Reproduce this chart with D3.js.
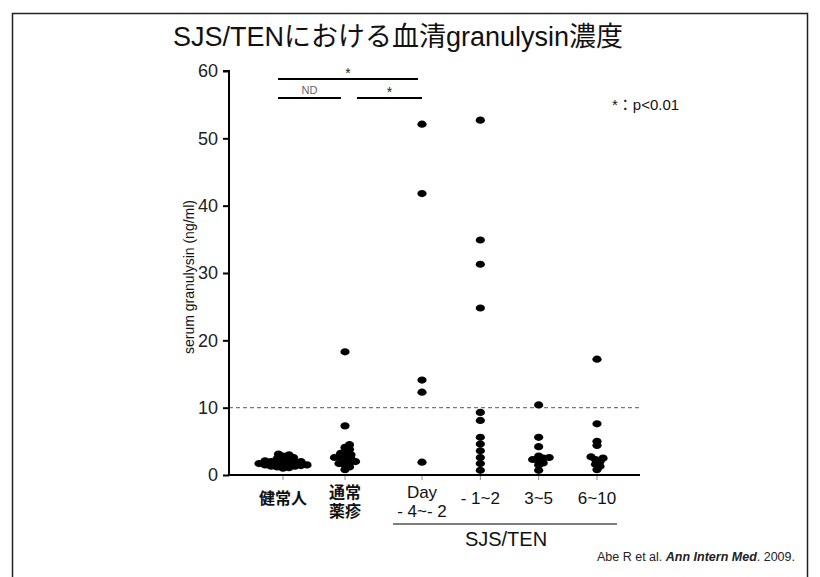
<!DOCTYPE html>
<html><head><meta charset="utf-8">
<script src="https://cdn.jsdelivr.net/npm/d3@7"></script>
<style>
body{margin:0;background:#fff;}
text{font-family:"Liberation Sans",Arial,"Noto Sans CJK JP",sans-serif;}
</style></head>
<body><svg id="c" width="820" height="577"></svg>
<script>
// ---- data ----
const controlCats = ["健常人", "通常薬疹"];
const sjsCats = ["Day -4~-2", "-1~2", "3~5", "6~10"];
const labelLines = {
  "健常人": ["健常人"],
  "通常薬疹": ["通常", "薬疹"],
  "Day -4~-2": ["Day", "- 4~- 2"],
  "-1~2": ["- 1~2"],
  "3~5": ["3~5"],
  "6~10": ["6~10"]
};
const healthy = [1.0,1.1,1.2,1.3,1.3,1.4,1.5,1.5,1.6,1.7,1.7,1.8,1.9,2.0,2.0,2.1,2.2,2.3,2.4,2.6,2.8,3.0,3.1];
const drugEruption = [0.8,1.2,1.5,1.7,1.8,2.0,2.2,2.4,2.5,2.6,2.8,3.0,3.2,3.5,3.8,4.1,4.5,7.3,18.3];
const sjsDay4to2 = [1.9,12.3,14.1,41.8,52.1];
const sjsDay1to2 = [0.7,1.7,2.6,3.6,4.6,5.6,8.1,9.3,24.8,31.3,34.9,52.7];
const sjsDay3to5 = [0.7,1.5,1.8,2.1,2.3,2.5,2.6,2.8,4.2,5.6,10.4];
const sjsDay6to10 = [0.8,1.3,1.6,2.0,2.3,2.5,2.7,4.4,5.0,7.6,17.2];
const seriesValues = [healthy, drugEruption, sjsDay4to2, sjsDay1to2, sjsDay3to5, sjsDay6to10];
const yTicks = [0,10,20,30,40,50,60];
const cutoff = 10;
const sigBars = [
  {from:"健常人", to:"Day -4~-2", label:"*", row:0},
  {from:"健常人", to:"通常薬疹", label:"ND", row:1},
  {from:"通常薬疹", to:"Day -4~-2", label:"*", row:1}
];
const titleText = "SJS/TENにおける血清granulysin濃度";
const yLabel = "serum granulysin (ng/ml)";
const groupLabel = "SJS/TEN";
const sigNote = "*：p<0.01";

// ---- layout ----
const svg = d3.select("#c");
const allCats = controlCats.concat(sjsCats);
const xCtrl = d3.scalePoint().domain(controlCats).range([283, 345]);
const xSjs = d3.scalePoint().domain(sjsCats).range([422, 597]);
const x = c => controlCats.includes(c) ? xCtrl(c) : xSjs(c);
const y = d3.scaleLinear().domain([0, 60]).range([475, 71]);
const axisLeftX = 229, axisRightX = 640;

// frame
svg.append("path").attr("d","M12.5,577 V13.5 H807.5 V577").attr("fill","none").attr("stroke","#222").attr("stroke-width",1.5);

// title
svg.append("text").attr("x",398).attr("y",46).attr("text-anchor","middle")
  .attr("font-size",27).attr("fill","#111").text(titleText);

// dashed cutoff
svg.append("line").attr("x1",axisLeftX).attr("x2",axisRightX)
  .attr("y1",y(cutoff)).attr("y2",y(cutoff))
  .attr("stroke","#777").attr("stroke-width",1.2).attr("stroke-dasharray","4,3");

// y axis
const ya = svg.append("g").attr("transform",`translate(${axisLeftX},0)`)
  .call(d3.axisLeft(y).tickValues(yTicks).tickSize(6).tickPadding(5).tickFormat(d3.format("d")));
ya.select(".domain").attr("stroke","#000").attr("stroke-width",2).attr("d",`M-6,${y(60)}H0V${y(0)}`);
ya.selectAll(".tick line").attr("stroke","#000").attr("stroke-width",2);
ya.selectAll(".tick text").attr("font-size",18).attr("fill","#222")
  .attr("font-family","Liberation Sans, Arial, sans-serif");

// x axis
const xa = svg.append("g").attr("transform",`translate(0,${y(0)})`);
xa.append("line").attr("x1",axisLeftX-1).attr("x2",axisRightX).attr("y1",0).attr("y2",0)
  .attr("stroke","#000").attr("stroke-width",2);
xa.selectAll(".xt").data(allCats).join("line").attr("class","xt")
  .attr("x1",d=>x(d)).attr("x2",d=>x(d)).attr("y1",1).attr("y2",5)
  .attr("stroke","#888").attr("stroke-width",1);

// x labels
allCats.forEach(c => {
  const lines = labelLines[c];
  const cjk = /[\u3040-\u9fff]/.test(c);
  const startY = lines.length === 1 ? 504 : 498;
  lines.forEach((t,i) => {
    svg.append("text").attr("x",x(c)).attr("y",startY + i*19).attr("text-anchor","middle")
      .attr("font-size", cjk ? 16 : 17).attr("font-weight", cjk ? 700 : 400).attr("fill","#111")
      .attr("font-family", cjk ? "Noto Sans CJK JP, sans-serif" : "Liberation Sans, Arial, sans-serif")
      .text(t);
  });
});

// SJS/TEN bracket
svg.append("line").attr("x1",xSjs(sjsCats[0])-29).attr("x2",xSjs(sjsCats[3])+20)
  .attr("y1",524).attr("y2",524).attr("stroke","#555").attr("stroke-width",1.3);
svg.append("text").attr("x",506).attr("y",546).attr("text-anchor","middle")
  .attr("font-size",20).attr("fill","#111").text(groupLabel);

// y label
svg.append("text").attr("transform","translate(194,277) rotate(-90)").attr("text-anchor","middle")
  .attr("font-size",14).attr("fill","#111").text(yLabel);

// beeswarm dots
const rx = 4.6, ry = 3.6, tol = 0.55, step = 1.5;
allCats.forEach((c, gi) => {
  const cx = x(c);
  const vals = seriesValues[gi].slice().sort((a,b)=>a-b);
  const placed = [];
  vals.forEach(v => {
    const py = y(v);
    let px = cx;
    for (let k = 0; k < 200; k++) {
      const cands = k === 0 ? [0] : [k*step, -k*step];
      let found = false;
      for (const o of cands) {
        const tx = cx + o;
        const hit = placed.some(p => {
          const dx = (p.x - tx)/(2*rx), dy = (p.y - py)/(2*ry);
          return dx*dx + dy*dy < tol*tol;
        });
        if (!hit) { px = tx; found = true; break; }
      }
      if (found) break;
    }
    placed.push({x:px, y:py});
  });
  svg.append("g").selectAll("ellipse").data(placed).join("ellipse")
    .attr("cx",d=>d.x).attr("cy",d=>d.y).attr("rx",rx).attr("ry",ry).attr("fill","#000");
});

// significance bars
const rowY = [79, 98];
sigBars.forEach((b, i) => {
  let x1 = x(b.from) - 5, x2 = x(b.to) - 4;
  if (b.row === 1 && b.label === "*") { x1 = x(b.from) + 12; x2 = x(b.to); }
  svg.append("line").attr("x1",x1).attr("x2",x2).attr("y1",rowY[b.row]).attr("y2",rowY[b.row])
    .attr("stroke","#000").attr("stroke-width",2);
  svg.append("text").attr("x",(x1+x2)/2).attr("y",rowY[b.row] - (b.label === "ND" ? 4 : 1))
    .attr("text-anchor","middle").attr("font-size", b.label === "ND" ? 11 : 14)
    .attr("fill", b.label === "ND" ? "#666" : "#222").text(b.label);
});

// p note
svg.append("text").attr("x",612).attr("y",110).attr("font-size",15).attr("fill","#111").text(sigNote);

// citation
const cit = svg.append("text").attr("x",795).attr("y",561).attr("text-anchor","end")
  .attr("font-size",12.5).attr("fill","#222");
cit.append("tspan").text("Abe R et al. ");
cit.append("tspan").attr("font-weight",700).attr("font-style","italic").text("Ann Intern Med");
cit.append("tspan").text(". 2009.");
</script></body></html>
